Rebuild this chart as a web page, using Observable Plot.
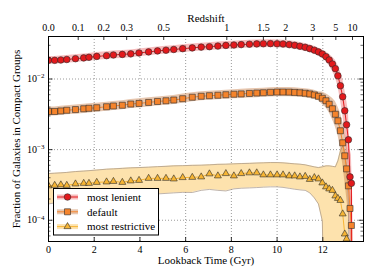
<!DOCTYPE html>
<html><head><meta charset="utf-8">
<script src="https://cdn.jsdelivr.net/npm/d3@7"></script>
<script src="https://cdn.jsdelivr.net/npm/@observablehq/plot@0.6"></script>
<style>
html,body{margin:0;padding:0;background:#fff;}
#chart svg{display:block;}
#chart svg, #chart svg text, #chart svg tspan { font-family: "Liberation Serif", "DejaVu Serif", serif !important; }
</style></head><body><div id="chart"></div>
<script>
// Lookback time (Gyr) of each simulation output
const lookback = [0,0.27,0.54,0.80,1.18,1.54,1.77,2.11,2.54,2.84,3.23,3.60,3.96,4.38,4.77,5.14,5.48,5.87,6.29,6.68,7.04,7.41,7.76,8.11,8.43,8.79,9.11,9.40,9.71,10.00,10.26,10.53,10.77,11.00,11.23,11.43,11.63,11.81,11.98,12.14,12.28,12.42,12.55,12.66,12.77,12.87,12.96,13.04,13.12,13.19,13.25,13.31];

// most lenient
const lenient = [0.0184,0.0184,0.0186,0.0189,0.0194,0.0199,0.0203,0.0209,0.0214,0.0219,0.0223,0.0227,0.0234,0.0242,0.0250,0.0256,0.0262,0.0269,0.0276,0.0283,0.0287,0.0293,0.0299,0.0303,0.0307,0.0311,0.0314,0.0316,0.0317,0.0315,0.0313,0.0307,0.0300,0.0291,0.0281,0.0269,0.0256,0.0242,0.0226,0.0207,0.0186,0.0163,0.0140,0.0111,0.00803,0.00561,0.00355,0.00225,0.00138,0.000411,0.000333,0];
const lenientLo = [0.0162,0.0162,0.0164,0.0167,0.0171,0.0175,0.0179,0.0184,0.0189,0.0193,0.0196,0.0200,0.0206,0.0213,0.0220,0.0226,0.0231,0.0237,0.0243,0.0249,0.0253,0.0258,0.0263,0.0267,0.0270,0.0274,0.0277,0.0278,0.0279,0.0278,0.0276,0.0270,0.0264,0.0256,0.0248,0.0237,0.0226,0.0213,0.0199,0.0176,0.0155,0.0129,0.0106,0.00786,0.00507,0.00316,0.00178,0.00100,0.000549,0.000164,0,0];
const lenientHi = [0.0209,0.0209,0.0211,0.0215,0.0220,0.0226,0.0230,0.0237,0.0243,0.0249,0.0253,0.0258,0.0266,0.0275,0.0284,0.0291,0.0297,0.0305,0.0313,0.0321,0.0326,0.0333,0.0339,0.0344,0.0348,0.0353,0.0356,0.0359,0.0360,0.0358,0.0355,0.0348,0.0341,0.0330,0.0319,0.0305,0.0291,0.0275,0.0257,0.0243,0.0224,0.0205,0.0185,0.0157,0.0127,0.00997,0.00708,0.00504,0.00347,0.00103,0.000837,0.0002];

// default
const fiducial = [0.00347,0.00347,0.00353,0.00361,0.00369,0.00379,0.00385,0.00392,0.00405,0.00415,0.00425,0.00442,0.00451,0.00466,0.00481,0.00492,0.00504,0.00526,0.00552,0.00570,0.00580,0.00589,0.00599,0.00609,0.00615,0.00625,0.00633,0.00639,0.00648,0.00654,0.00654,0.00652,0.00646,0.00639,0.00629,0.00615,0.00595,0.00570,0.00534,0.00492,0.00439,0.00379,0.00317,0.00256,0.00185,0.00125,0.000817,0.000534,0.000307,0.000147,0.0000844,0];
const fiducialLo = [0.00299,0.00299,0.00304,0.00311,0.00318,0.00326,0.00331,0.00338,0.00349,0.00357,0.00366,0.00381,0.00388,0.00401,0.00414,0.00424,0.00434,0.00453,0.00475,0.00491,0.00499,0.00507,0.00516,0.00524,0.00530,0.00538,0.00545,0.00550,0.00558,0.00563,0.00563,0.00561,0.00556,0.00550,0.00542,0.00530,0.00512,0.00491,0.00434,0.00391,0.00333,0.00268,0.00210,0.00162,0.00104,0.000627,0.000365,0.000213,0.000122,0.0000585,0,0];
const fiducialHi = [0.00403,0.00403,0.00410,0.00419,0.00428,0.00440,0.00447,0.00455,0.00470,0.00482,0.00493,0.00513,0.00524,0.00541,0.00558,0.00571,0.00585,0.00611,0.00641,0.00662,0.00673,0.00684,0.00695,0.00707,0.00714,0.00726,0.00735,0.00742,0.00752,0.00759,0.00759,0.00757,0.00750,0.00742,0.00730,0.00714,0.00691,0.00662,0.00657,0.00619,0.00579,0.00535,0.00479,0.00406,0.00329,0.00249,0.00183,0.00134,0.00077,0.00037,0.00021,0.00008];

// most restrictive
const restrictive = [3.07e-4,3.12e-4,3.17e-4,3.12e-4,3.27e-4,3.33e-4,3.33e-4,3.44e-4,3.49e-4,3.55e-4,3.44e-4,3.61e-4,3.67e-4,3.92e-4,3.92e-4,3.92e-4,3.85e-4,4.02e-4,4.05e-4,4.11e-4,4.54e-4,4.25e-4,4.58e-4,4.25e-4,4.58e-4,4.69e-4,4.69e-4,4.39e-4,4.39e-4,4.39e-4,4.39e-4,4.25e-4,4.25e-4,4.11e-4,4.18e-4,3.79e-4,4.02e-4,3.85e-4,3.38e-4,2.97e-4,2.78e-4,2.65e-4,2.21e-4,2.04e-4,1.91e-4,1.23e-4,6.39e-5,5.43e-5,0,0,0,0];
const restrictiveLo = [1.70e-4,1.76e-4,1.82e-4,1.88e-4,1.94e-4,2.00e-4,2.04e-4,2.07e-4,2.14e-4,2.18e-4,2.21e-4,2.25e-4,2.28e-4,2.32e-4,2.36e-4,2.40e-4,2.44e-4,2.48e-4,2.47e-4,2.65e-4,2.73e-4,2.65e-4,2.60e-4,2.78e-4,2.84e-4,2.87e-4,2.90e-4,2.94e-4,2.97e-4,2.97e-4,2.92e-4,2.83e-4,2.75e-4,2.69e-4,2.65e-4,2.44e-4,2.07e-4,1.70e-4,9.77e-5,0,0,0,0,0,0,0,0,0,0,0,0,0];
const restrictiveHi = [4.58e-4,4.64e-4,4.69e-4,4.76e-4,4.89e-4,4.97e-4,5.04e-4,5.14e-4,5.29e-4,5.34e-4,5.43e-4,5.52e-4,5.57e-4,5.65e-4,5.74e-4,5.80e-4,5.89e-4,5.93e-4,5.99e-4,6.03e-4,6.09e-4,6.19e-4,6.23e-4,6.29e-4,6.35e-4,6.39e-4,6.46e-4,6.50e-4,6.56e-4,6.56e-4,6.50e-4,6.39e-4,6.29e-4,6.23e-4,6.09e-4,5.89e-4,5.70e-4,5.57e-4,5.70e-4,5.89e-4,5.89e-4,5.80e-4,5.70e-4,6.94e-4,9.61e-4,1.13e-3,9.61e-4,5.89e-4,1.88e-4,0,0,0];

const seriesNames = ["most lenient", "default", "most restrictive"];
const xTicks = [0, 2, 4, 6, 8, 10, 12];
const yTicks = [1e-4, 1e-3, 1e-2];
const yTickLabels = ["10^−4", "10^−3", "10^−2"];
const zTickLookback = [0, 1.30, 2.42, 3.42, 5.04, 7.80, 9.40, 10.38, 11.56, 12.57, 13.30];
const zTickLabels = ["0.0", "0.1", "0.2", "0.3", "0.5", "1", "1.5", "2", "3", "5", "10"];
const xLabel = "Lookback Time (Gyr)";
const yLabel = "Fraction of Galaxies in Compact Groups";
const zLabel = "Redshift";

const FLOOR = 1e-7;
const fl = v => (v > 0 ? v : FLOOR);
const build = (v, lo, hi) => lookback.map((t, i) => ({t, v: v[i], lo: lo[i], hi: hi[i]}));
const dLen = build(lenient, lenientLo, lenientHi);
const dDef = build(fiducial, fiducialLo, fiducialHi);
const dRes = build(restrictive, restrictiveLo, restrictiveHi);

const W = 374, H = 280, mL = 48, mR = 11, mT = 36, mB = 39;
const pw = W - mL - mR, ph = H - mT - mB;
const font = "Liberation Serif, DejaVu Serif, serif";

const minorY = [];
for (let e = -5; e <= -2; e++) for (let k = 2; k <= 9; k++) {
  const v = k * Math.pow(10, e);
  if (v >= 5e-5 && v <= 0.04) minorY.push(v);
}

const col = {
  red: "#e3191c", redBand: "#ef6a6c",
  org: "#f5842c", orgBand: "#c27035",
  yel: "#f7b534", yelBand: "#fde2ad", yelEdge: "#a39486"
};

const chart = Plot.plot({
  width: W, height: H,
  marginLeft: mL, marginRight: mR, marginTop: mT, marginBottom: mB,
  style: {fontFamily: font, fontSize: "10px", background: "white", color: "black", overflow: "visible"},
  x: {domain: [0, 13.78]},
  y: {type: "log", domain: [5e-5, 0.04]},
  marks: [
    Plot.gridX(xTicks, {stroke: "#808080", strokeOpacity: 1, strokeWidth: 0.8, strokeDasharray: "1,2"}),
    Plot.gridY(yTicks, {stroke: "#808080", strokeOpacity: 1, strokeWidth: 0.8, strokeDasharray: "1,2"}),
    // bands
    Plot.areaY(dRes, {x: "t", y1: d => fl(d.lo), y2: d => fl(d.hi), fill: col.yelBand, fillOpacity: 1, clip: true}),
    Plot.line(dRes, {x: "t", y: d => fl(d.lo), stroke: col.yelEdge, strokeWidth: 0.7, clip: true}),
    Plot.line(dRes, {x: "t", y: d => fl(d.hi), stroke: col.yelEdge, strokeWidth: 0.7, clip: true}),
    Plot.areaY(dDef, {x: "t", y1: d => fl(d.lo), y2: d => fl(d.hi), fill: col.orgBand, fillOpacity: 0.4, clip: true}),
    Plot.areaY(dLen, {x: "t", y1: d => fl(d.lo), y2: d => fl(d.hi), fill: col.redBand, fillOpacity: 0.45, clip: true}),
    // lines
    Plot.line(dRes, {x: "t", y: d => fl(d.v), stroke: col.yel, strokeWidth: 1, clip: true}),
    Plot.line(dDef, {x: "t", y: d => fl(d.v), stroke: col.org, strokeWidth: 1, clip: true}),
    Plot.line(dLen, {x: "t", y: d => fl(d.v), stroke: col.red, strokeWidth: 1, clip: true}),
    // markers
    Plot.dot(dRes.filter(d => d.v > 0), {x: "t", y: "v", symbol: "triangle", r: 2.6, fill: col.yel, stroke: "#2a2a2a", strokeWidth: 0.6, clip: true}),
    Plot.dot(dDef.filter(d => d.v > 0), {x: "t", y: "v", symbol: "square", r: 3.4, fill: col.org, stroke: "#2a2a2a", strokeWidth: 0.6, clip: true}),
    Plot.dot(dLen.filter(d => d.v > 0), {x: "t", y: "v", symbol: "circle", r: 3.3, fill: col.red, stroke: "#2a2a2a", strokeWidth: 0.6, clip: true}),
    // inward ticks
    Plot.tickX(xTicks, {x: d => d, insetTop: ph - 4, stroke: "black", strokeWidth: 0.8}),
    Plot.tickX(zTickLookback, {x: d => d, insetBottom: ph - 4, stroke: "black", strokeWidth: 0.8}),
    Plot.tickY(yTicks, {y: d => d, insetRight: pw - 4.5, stroke: "black", strokeWidth: 0.8}),
    Plot.tickY(yTicks, {y: d => d, insetLeft: pw - 4.5, stroke: "black", strokeWidth: 0.8}),
    Plot.tickY(minorY, {y: d => d, insetRight: pw - 2.5, stroke: "black", strokeWidth: 0.6}),
    Plot.tickY(minorY, {y: d => d, insetLeft: pw - 2.5, stroke: "black", strokeWidth: 0.6}),
    // axes (labels only)
    Plot.axisX(xTicks, {anchor: "bottom", tickSize: 0, tickPadding: 4, label: null, fontSize: 10}),
    Plot.axisX(zTickLookback, {anchor: "top", tickSize: 0, tickPadding: 6, label: null, fontSize: 10,
      tickFormat: d => zTickLabels[zTickLookback.indexOf(d)]}),
    Plot.axisY(yTicks, {anchor: "left", tickSize: 0, tickPadding: 4, label: null, fontSize: 10,
      tickFormat: d => yTickLabels[yTicks.indexOf(d)]}),
    Plot.text([xLabel], {frameAnchor: "bottom", dy: 22, text: d => d, fontSize: 11}),
    Plot.text([zLabel], {frameAnchor: "top", dy: -22, text: d => d, fontSize: 11}),
    Plot.text([yLabel], {frameAnchor: "left", dx: -32, rotate: -90, textAnchor: "middle", text: d => d, fontSize: 11}),
    Plot.frame({stroke: "black", strokeWidth: 1})
  ]
});

const svg = d3.select(chart);
// superscripts on y tick labels
svg.selectAll("text").each(function() {
  const t = d3.select(this);
  const s = t.text();
  if (s.startsWith("10^")) {
    t.text("10");
    t.append("tspan").attr("dy", "-0.55em").attr("font-size", "7px").text(s.slice(3));
  }
});

// legend
const lg = svg.append("g").attr("font-size", 11).attr("text-anchor", "start");
lg.append("rect").attr("x", 53.5).attr("y", 188.5).attr("width", 105).attr("height", 46.5)
  .attr("fill", "white").attr("stroke", "black").attr("stroke-width", 1);
const legendRows = [
  {name: seriesNames[0], line: col.red, band: col.redBand, bandOp: 0.45, sym: d3.symbolCircle, r: 3.3, fill: col.red},
  {name: seriesNames[1], line: col.org, band: col.orgBand, bandOp: 0.4, sym: d3.symbolSquare, r: 3.4, fill: col.org},
  {name: seriesNames[2], line: col.yel, band: col.yelBand, bandOp: 1, sym: d3.symbolTriangle, r: 2.6, fill: col.yel}
];
legendRows.forEach((row, i) => {
  const y = 197 + i * 14.8;
  lg.append("line").attr("x1", 57).attr("x2", 78).attr("y1", y).attr("y2", y)
    .attr("stroke", row.band).attr("stroke-opacity", row.bandOp).attr("stroke-width", 5);
  lg.append("line").attr("x1", 57).attr("x2", 78).attr("y1", y).attr("y2", y)
    .attr("stroke", row.line).attr("stroke-width", 1);
  lg.append("path").attr("transform", `translate(67.5,${y})`)
    .attr("d", d3.symbol(row.sym, Math.PI * row.r * row.r)())
    .attr("fill", row.fill).attr("stroke", "#2a2a2a").attr("stroke-width", 0.6);
  lg.append("text").attr("x", 87).attr("y", y).attr("dy", "0.35em").attr("text-anchor", "start").text(row.name);
});

document.getElementById("chart").appendChild(chart);
</script>
</body></html>
